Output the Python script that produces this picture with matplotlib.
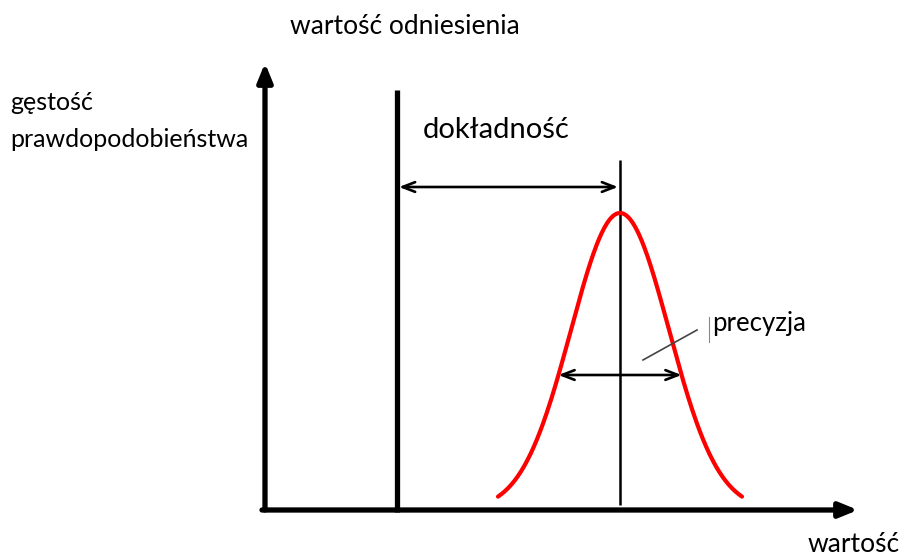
import numpy as np
import matplotlib.pyplot as plt

plt.rcParams['font.family'] = ['Lato', 'DejaVu Sans']

# geometry of the sketch, in plot units (origin at the axes' corner)
x_axis_end = 593
y_axis_end = 447
reference = 132          # wartość odniesienia
mean = 355               # centre of the distribution
sigma = 49
peak = 297
tail = 122               # curve drawn over mean +/- tail
ref_top = 420
mean_top = 350
accuracy_y = 323
precision_y = 135

labels = {
    'top': 'wartość odniesienia',
    'ylabel': 'gęstość\nprawdopodobieństwa',
    'accuracy': 'dokładność',
    'precision': 'precyzja',
    'xlabel': 'wartość',
}

fig = plt.figure(figsize=(9.01, 5.58), dpi=100)
ax = fig.add_axes([0, 0, 1, 1])
ax.set_xlim(-265, 636)
ax.set_ylim(-48, 510)
ax.axis('off')

# axes with filled arrow heads
axis_props = dict(arrowstyle='-|>,head_length=1.1,head_width=0.45',
                  lw=3.8, color='black', shrinkA=0, shrinkB=0)
ax.annotate('', xy=(0, y_axis_end), xytext=(0, 0), arrowprops=axis_props)
ax.annotate('', xy=(x_axis_end, 0), xytext=(-3, 0), arrowprops=axis_props)

# reference value and mean lines
ax.plot([reference, reference], [-2, ref_top], color='black', lw=3.8,
        solid_capstyle='butt')
ax.plot([mean, mean], [5, mean_top], color='black', lw=1.8,
        solid_capstyle='butt')

# normal curve
xs = np.linspace(mean - tail, mean + tail, 300)
ys = peak * np.exp(-(xs - mean) ** 2 / (2 * sigma ** 2))
ax.plot(xs, ys, color='#ff0000', lw=3.0, solid_capstyle='round')

# accuracy and precision arrows
dbl = dict(arrowstyle='<->,head_length=0.9,head_width=0.35', lw=1.9,
           color='black', shrinkA=0, shrinkB=0)
ax.annotate('', xy=(reference + 2, accuracy_y), xytext=(mean - 2, accuracy_y),
            arrowprops=dbl)
half = sigma * np.sqrt(2 * np.log(peak / precision_y))
ax.annotate('', xy=(mean - half, precision_y), xytext=(mean + half, precision_y),
            arrowprops=dbl)

# leader line to the precision label
ax.plot([378, 432], [150, 180], color='#444444', lw=1.2)
ax.plot([444, 444], [168, 193], color='#888888', lw=0.8)

ax.text(25, 483, labels['top'], fontsize=19, ha='left', va='center')
ax.text(-255, 389, labels['ylabel'], fontsize=18, ha='left', va='center',
        linespacing=1.7)
ax.text(158, 380, labels['accuracy'], fontsize=21, ha='left', va='center')
ax.text(447, 187, labels['precision'], fontsize=18.5, ha='left', va='center')
ax.text(543, -34, labels['xlabel'], fontsize=19, ha='left', va='center')

fig.savefig('out.png', dpi=100)
